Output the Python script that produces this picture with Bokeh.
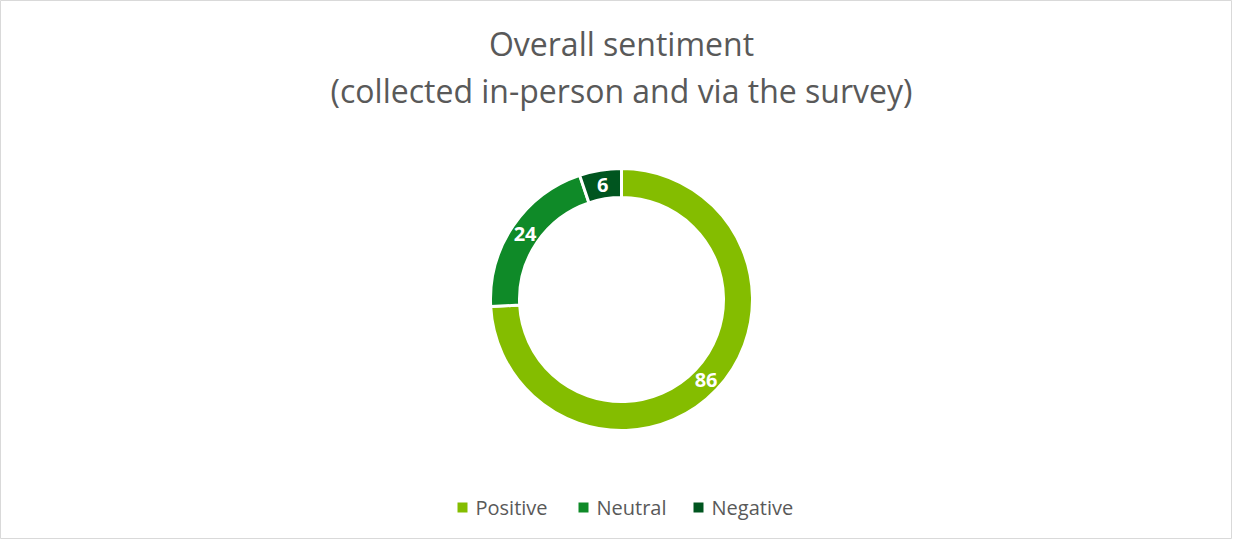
import numpy as np
from bokeh.plotting import figure
from bokeh.models import ColumnDataSource, Range1d
from bokeh.core.properties import value
from bokeh.embed import file_html
from bokeh.resources import INLINE

categories = ["Positive", "Neutral", "Negative"]
counts = [86, 24, 6]
colors = ["#84bd00", "#0f8a28", "#00551f"]
title_lines = ["Overall sentiment", "(collected in-person and via the survey)"]

W, H = 1232, 539
p = figure(width=W, height=H, output_backend="svg", toolbar_location=None,
           x_range=Range1d(0, W), y_range=Range1d(0, H), min_border=0)
p.axis.visible = False
p.grid.visible = False
p.outline_line_color = "#d9d9d9"
p.outline_line_width = 1
p.background_fill_color = "white"
p.border_fill_color = "white"

cx, cy = 621, H - 299
r_in, r_out = 102, 131

vals = np.array(counts, dtype=float)
total = vals.sum()
cum = np.concatenate([[0], np.cumsum(vals)])
start = np.pi / 2 - cum[:-1] / total * 2 * np.pi
end = np.pi / 2 - cum[1:] / total * 2 * np.pi
mid = (start + end) / 2
r_mid = (r_in + r_out) / 2

src = ColumnDataSource(dict(
    x=[cx] * len(vals), y=[cy] * len(vals), start=start, end=end, color=colors,
    lx=cx + r_mid * np.cos(mid), ly=cy + r_mid * np.sin(mid),
    lab=[str(c) for c in counts]))

p.annular_wedge(x="x", y="y", inner_radius=r_in, outer_radius=r_out,
                start_angle="start", end_angle="end", direction="clock",
                fill_color="color", line_color="white", line_width=3, source=src)
p.text(x="lx", y="ly", text="lab", source=src, text_color="white",
       text_font=value("Open Sans"), text_font_style="bold", text_font_size="20px",
       text_align="center", text_baseline="middle")

# title
p.text(x=[621, 621], y=[H - 43, H - 90], text=title_lines, text_color="#595959",
       text_font=value("Open Sans"), text_font_size="32px",
       text_align="center", text_baseline="middle")

# legend
leg_sq_x = [462, 583, 698]
leg_y = H - 507
p.scatter(x=leg_sq_x, y=[leg_y] * 3, marker="square", size=10, fill_color=colors,
          line_color=None)
p.text(x=[x + 13 for x in leg_sq_x], y=[leg_y] * 3, text=categories,
       text_color="#595959", text_font=value("Open Sans"), text_font_size="20px",
       text_align="left", text_baseline="middle")

open("out.html", "w").write(file_html(p, INLINE))
